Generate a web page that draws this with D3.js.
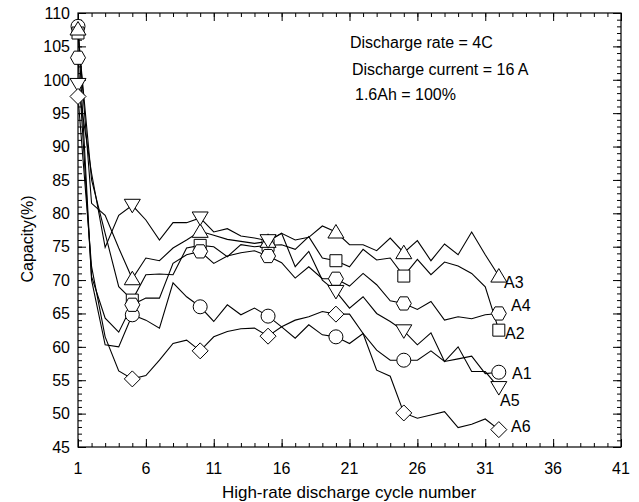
<!DOCTYPE html>
<html>
<head>
<meta charset="utf-8">
<script src="https://cdn.jsdelivr.net/npm/d3@7"></script>
<style>
  body { margin: 0; background: #fff; }
  svg text { font-family: "Liberation Sans", Arial, sans-serif; fill: #000; }
</style>
</head>
<body>
<div id="chart"></div>
<script>
// cycle numbers
var cycles = [1,2,3,4,5,6,7,8,9,10,11,12,13,14,15,16,17,18,19,20,21,22,23,24,25,26,27,28,29,30,31,32];
var markerCycles = [1, 5, 10, 15, 20, 25, 32];

// capacity (%)
var a1 = [108,70,60.3,60.0,64.8,64.0,62.8,69.6,67.5,66.0,63.8,66.3,64.8,65.8,64.6,63.0,61.3,63.3,61.8,61.5,60.5,62.0,59.5,58.0,58.0,58.0,59.4,57.8,58.2,58.6,56.0,56.2];
var a2 = [107,85,77,69,67,70.8,70.9,70.8,74.8,75.2,75.0,73.5,75.3,75.0,75.2,75.3,74.6,76.5,73.3,72.9,72.0,74.6,73.0,73.3,70.6,73.1,70.8,72.7,72.1,71.0,69.0,62.5];
var a3 = [107.6,81.5,79.7,74.8,70.2,73.3,72.9,74.8,76.0,77.3,76.7,76.1,75.8,75.5,75.8,77.0,76.0,76.4,78.1,77.2,75.3,75.3,74.4,76.3,74.1,75.9,72.9,75.4,73.8,77.2,73.8,70.6];
var a4 = [103.3,70.5,64.3,62.2,66.3,67.3,67.3,72.5,73.8,74.3,72.5,73.6,74.1,74.4,73.6,72.6,70.3,72.0,70.2,70.2,69.1,71.0,69.3,66.9,66.5,65.6,66.8,64.0,64.5,64.2,64.8,65.0];
var a5 = [99.3,86,74.9,79.7,81.2,79.0,76.0,78.6,78.6,79.3,77.2,77.7,76.6,76.3,75.9,77.0,72.0,74.3,70.0,68.3,65.8,67.5,65.0,63.8,62.4,60.3,62.1,57.8,60.0,56.3,56.3,53.9];
var a6 = [97.5,72,61.5,56.4,55.2,55.7,58.0,60.5,61.0,59.4,61.5,62.3,62.7,62.8,61.6,63.0,64.0,64.5,65.3,64.9,64.9,62.0,56.5,55.6,50.1,49.3,49.8,50.3,47.9,48.4,49.2,47.6];

var seriesNames = ["A1", "A2", "A3", "A4", "A5", "A6"];
var seriesValues = [a1, a2, a3, a4, a5, a6];
var seriesMarkers = ["circle", "square", "triangle", "hexagon", "down", "diamond"];

var xTicks = [1, 6, 11, 16, 21, 26, 31, 36, 41];
var yTicks = [45, 50, 55, 60, 65, 70, 75, 80, 85, 90, 95, 100, 105, 110];

var width = 639, height = 502;
var plotL = 78, plotR = 621, plotT = 13, plotB = 447;

var svg = d3.select("#chart").append("svg")
    .attr("width", width)
    .attr("height", height);

var x = d3.scaleLinear().domain([1, 41]).range([plotL, plotR]);
var y = d3.scaleLinear().domain([45, 110]).range([plotB, plotT]);

var minorX = d3.range(1, 42);
var minorY = d3.range(45, 111);

// ticks all round, pointing inward
function tickAxis(axis, scale, values, size, pos) {
    var g = svg.append("g").attr("transform", pos)
        .call(axis(scale).tickValues(values).tickSize(size).tickFormat(""));
    g.select(".domain").remove();
    g.selectAll("line").attr("stroke", "#000").attr("stroke-width", 1);
}
tickAxis(d3.axisBottom, x, minorX, -4, "translate(0," + plotB + ")");
tickAxis(d3.axisBottom, x, xTicks, -8, "translate(0," + plotB + ")");
tickAxis(d3.axisTop, x, minorX, -4, "translate(0," + plotT + ")");
tickAxis(d3.axisTop, x, xTicks, -8, "translate(0," + plotT + ")");
tickAxis(d3.axisLeft, y, minorY, -4, "translate(" + plotL + ",0)");
tickAxis(d3.axisLeft, y, yTicks, -8, "translate(" + plotL + ",0)");
tickAxis(d3.axisRight, y, minorY, -4, "translate(" + plotR + ",0)");
tickAxis(d3.axisRight, y, yTicks, -8, "translate(" + plotR + ",0)");

svg.append("rect")
    .attr("x", plotL).attr("y", plotT)
    .attr("width", plotR - plotL).attr("height", plotB - plotT)
    .attr("fill", "none").attr("stroke", "#000").attr("stroke-width", 1.2);

// tick labels
svg.selectAll(".xlab").data(xTicks).enter().append("text")
    .attr("x", function(d) { return x(d); })
    .attr("y", 474)
    .attr("text-anchor", "middle")
    .style("font-size", "16px")
    .text(function(d) { return d; });

svg.selectAll(".ylab").data(yTicks).enter().append("text")
    .attr("x", 70)
    .attr("y", function(d) { return y(d); })
    .attr("dy", "0.36em")
    .attr("text-anchor", "end")
    .style("font-size", "16px")
    .text(function(d) { return d; });

svg.append("text")
    .attr("x", 349).attr("y", 498)
    .attr("text-anchor", "middle")
    .style("font-size", "17px")
    .text("High-rate discharge cycle number");

svg.append("text")
    .attr("transform", "translate(33,239) rotate(-90)")
    .attr("text-anchor", "middle")
    .style("font-size", "16px")
    .text("Capacity(%)");

// annotation
svg.append("text").attr("x", 350).attr("y", 48).style("font-size", "16px").text("Discharge rate = 4C");
svg.append("text").attr("x", 352).attr("y", 75).style("font-size", "16px").text("Discharge current = 16 A");
svg.append("text").attr("x", 355).attr("y", 100).style("font-size", "16px").text("1.6Ah = 100%");

// lines
var line = d3.line()
    .x(function(d) { return x(d[0]); })
    .y(function(d) { return y(d[1]); });

seriesValues.forEach(function(vals) {
    svg.append("path")
        .datum(cycles.map(function(c, i) { return [c, vals[i]]; }))
        .attr("d", line)
        .attr("fill", "none")
        .attr("stroke", "#000")
        .attr("stroke-width", 1.1);
});

function markerPath(type) {
    if (type == "circle") return "M-7,0A7,7 0 1,0 7,0A7,7 0 1,0 -7,0Z";
    if (type == "square") return "M-6,-6L6,-6L6,6L-6,6Z";
    if (type == "triangle") return "M0,-7.5L8,6L-8,6Z";
    if (type == "down") return "M0,7.5L8,-6L-8,-6Z";
    if (type == "diamond") return "M0,-8L8,0L0,8L-8,0Z";
    // hexagon, pointy left and right
    return "M-7.5,0L-3.8,-6.6L3.8,-6.6L7.5,0L3.8,6.6L-3.8,6.6Z";
}

seriesValues.forEach(function(vals, k) {
    svg.selectAll(null)
        .data(markerCycles)
        .enter().append("path")
        .attr("transform", function(c) { return "translate(" + x(c) + "," + y(vals[cycles.indexOf(c)]) + ")"; })
        .attr("d", markerPath(seriesMarkers[k]))
        .attr("fill", "#fff")
        .attr("stroke", "#000")
        .attr("stroke-width", 1);
});

// series labels at the right end
var labelPos = {A3: [504, 288], A4: [511, 311], A2: [505, 339], A1: [512, 379], A5: [500, 406], A6: [511, 432]};
seriesNames.forEach(function(n) {
    svg.append("text")
        .attr("x", labelPos[n][0]).attr("y", labelPos[n][1])
        .style("font-size", "16px")
        .text(n);
});
</script>
</body>
</html>
